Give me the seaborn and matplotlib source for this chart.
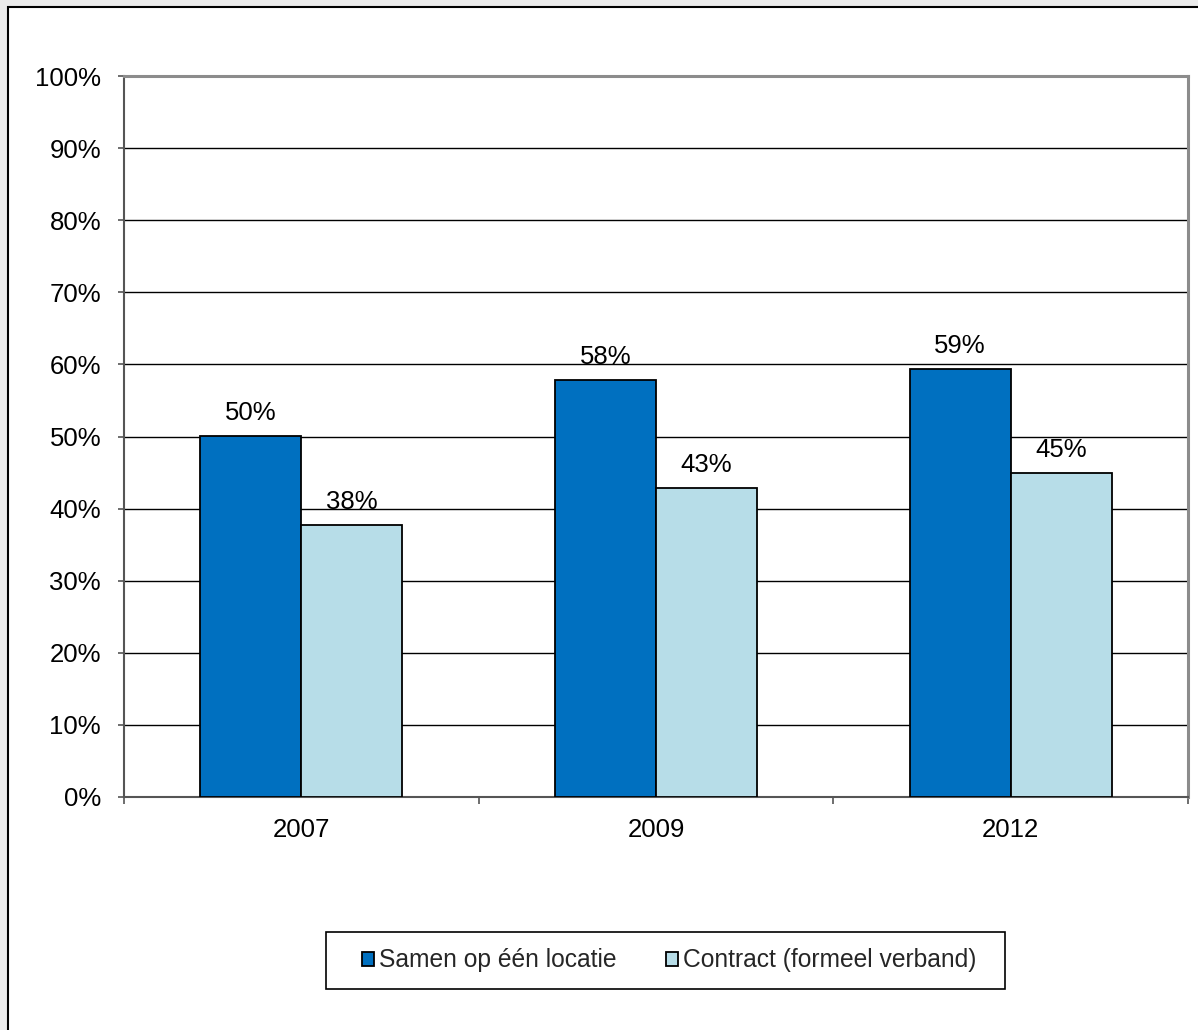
import matplotlib
matplotlib.use("Agg")
import matplotlib.pyplot as plt
from matplotlib.patches import Rectangle, Patch
import seaborn as sns
import pandas as pd

years = ["2007", "2009", "2012"]
series_names = ["Samen op één locatie", "Contract (formeel verband)"]
samen = [50.1, 57.8, 59.4]
contract = [37.7, 42.9, 44.9]
colors = ["#0070C0", "#B7DDE8"]
yticks = [0, 10, 20, 30, 40, 50, 60, 70, 80, 90, 100]

df = pd.DataFrame({
    "year": years * 2,
    "series": [series_names[0]] * 3 + [series_names[1]] * 3,
    "value": samen + contract,
})

sns.set_theme(style="white")
plt.rcParams["font.family"] = ["Liberation Sans", "DejaVu Sans"]

W, H = 1198, 1030
fig = plt.figure(figsize=(W / 100, H / 100), dpi=100)
fig.patch.set_facecolor("#EBEBEB")
# white chart area with a dark frame
fig.add_artist(Rectangle((8 / W, -0.05), 1.1, 1023 / H + 0.05, transform=fig.transFigure,
                         facecolor="white", edgecolor="black", linewidth=1.5, zorder=0))

ax = fig.add_axes([124 / W, (H - 797) / H, (1188 - 124) / W, (797 - 76) / H])
ax.set_facecolor("white")

sns.barplot(data=df, x="year", y="value", hue="series", hue_order=series_names,
            palette=colors, saturation=1, width=0.57, gap=0, edgecolor="black",
            linewidth=1.3, ax=ax, legend=False, zorder=3)

for container in ax.containers:
    labels = [f"{b.get_height():.0f}%" for b in container]
    ax.bar_label(container, labels=labels, padding=8, fontsize=18.5, color="black")

ax.set_ylim(0, 100)
ax.set_xlim(-0.5, 2.5)
ax.set_yticks(yticks)
ax.set_yticklabels([f"{t}%" for t in yticks], fontsize=18.5, color="black")
ax.yaxis.grid(True, color="black", linewidth=1.0, zorder=1)
ax.set_axisbelow(True)
ax.tick_params(axis="y", which="major", direction="out", length=4.5, width=1.2,
               color="#555555", pad=12, left=True)

ax.set_xticks([0, 1, 2])
ax.set_xticklabels(years, fontsize=18.5, color="black")
ax.set_xticks([-0.5, 0.5, 1.5, 2.5], minor=True)
ax.tick_params(axis="x", which="major", length=0, pad=15)
ax.tick_params(axis="x", which="minor", direction="out", length=5, width=1.2,
               color="#555555", bottom=True)
ax.set_xlabel("")
ax.set_ylabel("")

for side in ["left", "bottom"]:
    ax.spines[side].set_color("#555555")
    ax.spines[side].set_linewidth(1.5)
for side in ["top", "right"]:
    ax.spines[side].set_color("#8C8C8C")
    ax.spines[side].set_linewidth(2.2)
    ax.spines[side].set_visible(True)

# legend box
fig.add_artist(Rectangle((326 / W, 1 - 989 / H), (1005 - 326) / W, (989 - 932) / H,
                         transform=fig.transFigure, facecolor="white",
                         edgecolor="black", linewidth=1.2, zorder=1))
handles = [Patch(facecolor=c, edgecolor="black", linewidth=1.3) for c in colors]
leg = fig.legend(handles, series_names, loc="center",
                 bbox_to_anchor=(669 / W, 1 - 960.5 / H), ncol=2, fontsize=17.7,
                 frameon=False, handlelength=0.5, handleheight=0.5,
                 handletextpad=0.2, columnspacing=2.0)
leg.set_zorder(2)

fig.savefig("out.png", dpi=100, facecolor=fig.get_facecolor())
